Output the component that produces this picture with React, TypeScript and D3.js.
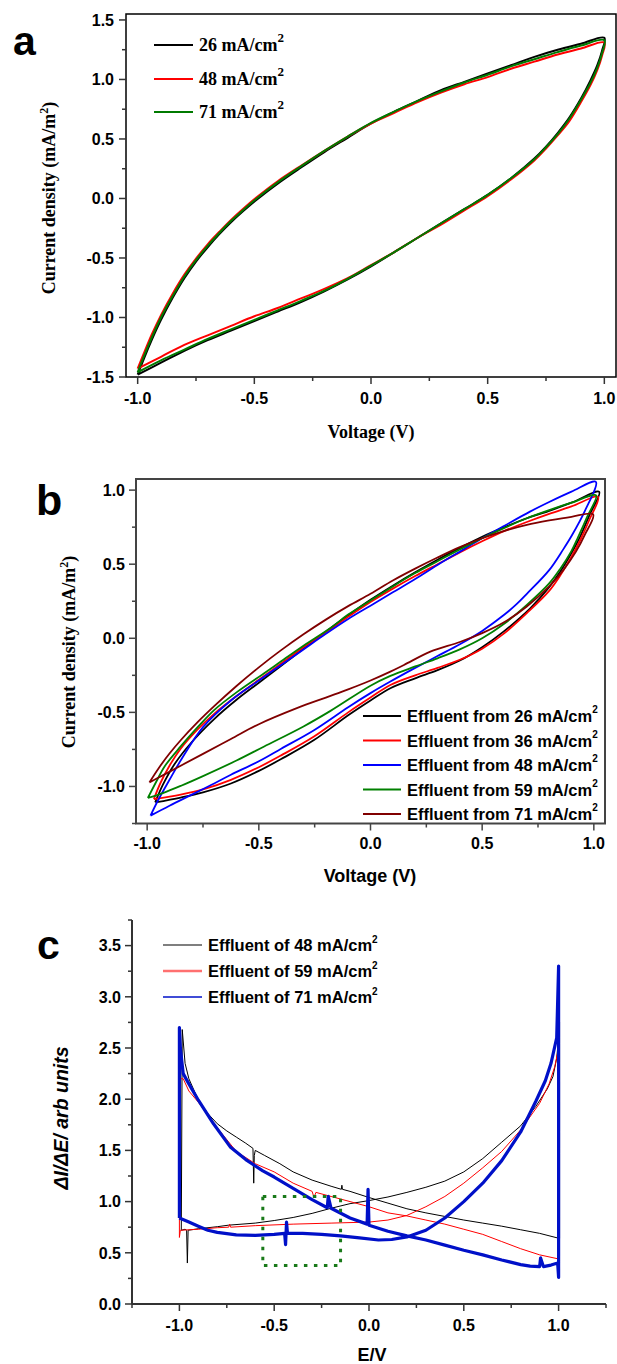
import React from 'react';
import * as d3 from 'd3';

type P = [number, number];

// ---------- Panel a data (Voltage V, current density) ----------
const aSeries = ['26 mA/cm', '48 mA/cm', '71 mA/cm'];
const aColors = ['#000000', '#ff0000', '#007a00'];
const a26Up: P[] = [[-1.0,-1.48],[-0.97,-1.33],[-0.94,-1.19],[-0.9,-1.02],[-0.85,-0.835],[-0.8,-0.67],[-0.75,-0.53],[-0.7,-0.41],[-0.65,-0.30],[-0.6,-0.20],[-0.55,-0.11],[-0.49,-0.01],[-0.4,0.125],[-0.3,0.26],[-0.2,0.39],[-0.1,0.51],[0.0,0.63],[0.1,0.73],[0.2,0.82],[0.3,0.91],[0.4,0.98],[0.5,1.05],[0.6,1.12],[0.7,1.19],[0.8,1.25],[0.9,1.30],[1.0,1.35]];
const a26Down: P[] = [[1.0,1.35],[0.99,1.24],[0.97,1.12],[0.94,0.99],[0.9,0.84],[0.85,0.68],[0.8,0.55],[0.75,0.435],[0.7,0.335],[0.6,0.17],[0.5,0.03],[0.4,-0.09],[0.3,-0.21],[0.2,-0.33],[0.1,-0.45],[0.0,-0.57],[-0.1,-0.68],[-0.2,-0.78],[-0.3,-0.87],[-0.4,-0.95],[-0.5,-1.03],[-0.6,-1.11],[-0.7,-1.19],[-0.8,-1.28],[-0.9,-1.38],[-1.0,-1.48]];
const a48Up: P[] = [[-1.0,-1.43],[-0.97,-1.285],[-0.94,-1.145],[-0.9,-0.98],[-0.85,-0.80],[-0.8,-0.64],[-0.75,-0.505],[-0.7,-0.385],[-0.65,-0.28],[-0.6,-0.18],[-0.55,-0.09],[-0.49,0.01],[-0.4,0.145],[-0.3,0.275],[-0.2,0.40],[-0.1,0.52],[0.0,0.63],[0.1,0.72],[0.2,0.81],[0.3,0.89],[0.4,0.96],[0.5,1.02],[0.6,1.09],[0.7,1.15],[0.8,1.21],[0.9,1.26],[1.0,1.31]];
const a48Down: P[] = [[1.0,1.31],[0.99,1.20],[0.97,1.08],[0.94,0.95],[0.9,0.81],[0.85,0.65],[0.8,0.53],[0.75,0.42],[0.7,0.32],[0.6,0.16],[0.5,0.02],[0.4,-0.10],[0.3,-0.22],[0.2,-0.33],[0.1,-0.45],[0.0,-0.56],[-0.1,-0.67],[-0.2,-0.76],[-0.3,-0.84],[-0.4,-0.92],[-0.5,-0.99],[-0.6,-1.07],[-0.7,-1.15],[-0.8,-1.23],[-0.9,-1.33],[-1.0,-1.43]];
const a71Up: P[] = [[-1.0,-1.46],[-0.97,-1.31],[-0.94,-1.17],[-0.9,-1.0],[-0.85,-0.82],[-0.8,-0.655],[-0.75,-0.518],[-0.7,-0.398],[-0.65,-0.29],[-0.6,-0.19],[-0.55,-0.10],[-0.49,0.0],[-0.4,0.135],[-0.3,0.27],[-0.2,0.40],[-0.1,0.52],[0.0,0.635],[0.1,0.73],[0.2,0.82],[0.3,0.90],[0.4,0.975],[0.5,1.04],[0.6,1.11],[0.7,1.17],[0.8,1.23],[0.9,1.285],[1.0,1.33]];
const a71Down: P[] = [[1.0,1.33],[0.99,1.22],[0.97,1.10],[0.94,0.97],[0.9,0.83],[0.85,0.67],[0.8,0.54],[0.75,0.43],[0.7,0.33],[0.6,0.17],[0.5,0.03],[0.4,-0.09],[0.3,-0.21],[0.2,-0.33],[0.1,-0.45],[0.0,-0.565],[-0.1,-0.675],[-0.2,-0.775],[-0.3,-0.86],[-0.4,-0.94],[-0.5,-1.02],[-0.6,-1.10],[-0.7,-1.18],[-0.8,-1.27],[-0.9,-1.36],[-1.0,-1.46]];
const aYMajor = [-1.5,-1,-0.5,0,0.5,1,1.5];
const aYMinor = [-1.25,-0.75,-0.25,0.25,0.75,1.25];
const aXMajor = [-1,-0.5,0,0.5,1];
const aXMinor = [-0.75,-0.25,0.25,0.75];

// ---------- Panel b data ----------
const bSeries = ['Effluent from 26 mA/cm', 'Effluent from 36 mA/cm', 'Effluent from 48 mA/cm', 'Effluent from 59 mA/cm', 'Effluent from 71 mA/cm'];
const bColors = ['#000000', '#ff0000', '#0000ff', '#008000', '#800000'];
const b26Up: P[] = [[-0.964,-1.108],[-0.93,-0.99],[-0.88,-0.855],[-0.8,-0.70],[-0.7,-0.545],[-0.6,-0.415],[-0.5,-0.30],[-0.4,-0.185],[-0.3,-0.07],[-0.2,0.045],[-0.1,0.155],[0.0,0.26],[0.1,0.355],[0.2,0.445],[0.3,0.53],[0.4,0.61],[0.5,0.685],[0.6,0.75],[0.7,0.81],[0.8,0.86],[0.9,0.915],[1.024,0.988]];
const b26Down: P[] = [[1.024,0.988],[0.98,0.83],[0.94,0.69],[0.9,0.575],[0.85,0.45],[0.8,0.345],[0.714,0.20],[0.6,0.05],[0.5,-0.06],[0.4,-0.15],[0.3,-0.215],[0.2,-0.27],[0.089,-0.337],[0.0,-0.42],[-0.1,-0.52],[-0.253,-0.687],[-0.4,-0.815],[-0.5,-0.895],[-0.625,-0.98],[-0.75,-1.04],[-0.85,-1.075],[-0.964,-1.108]];
const b36Up: P[] = [[-0.97,-1.085],[-0.94,-0.975],[-0.9,-0.86],[-0.85,-0.745],[-0.774,-0.615],[-0.7,-0.51],[-0.6,-0.39],[-0.5,-0.28],[-0.4,-0.17],[-0.3,-0.06],[-0.2,0.04],[-0.1,0.145],[0.0,0.245],[0.1,0.335],[0.2,0.42],[0.3,0.50],[0.4,0.58],[0.5,0.655],[0.6,0.725],[0.7,0.785],[0.8,0.84],[0.9,0.89],[1.019,0.954]];
const b36Down: P[] = [[1.019,0.954],[0.98,0.80],[0.94,0.665],[0.9,0.55],[0.85,0.425],[0.8,0.32],[0.7,0.17],[0.6,0.035],[0.5,-0.07],[0.4,-0.145],[0.3,-0.20],[0.2,-0.25],[0.089,-0.315],[0.0,-0.40],[-0.1,-0.50],[-0.253,-0.663],[-0.4,-0.79],[-0.5,-0.87],[-0.625,-0.955],[-0.75,-1.02],[-0.85,-1.055],[-0.97,-1.085]];
const b48Up: P[] = [[-0.985,-1.197],[-0.95,-1.09],[-0.9,-0.955],[-0.848,-0.82],[-0.75,-0.60],[-0.625,-0.42],[-0.5,-0.285],[-0.4,-0.18],[-0.3,-0.075],[-0.2,0.03],[-0.1,0.13],[0.0,0.22],[0.1,0.31],[0.2,0.40],[0.3,0.495],[0.417,0.60],[0.5,0.675],[0.6,0.76],[0.714,0.855],[0.8,0.92],[0.9,0.99],[1.009,1.056]];
const b48Down: P[] = [[1.009,1.056],[0.96,0.86],[0.9,0.69],[0.863,0.60],[0.8,0.46],[0.7,0.30],[0.654,0.23],[0.6,0.16],[0.5,0.05],[0.4,-0.04],[0.3,-0.12],[0.2,-0.20],[0.089,-0.292],[0.0,-0.37],[-0.1,-0.465],[-0.253,-0.62],[-0.4,-0.745],[-0.5,-0.83],[-0.625,-0.921],[-0.7,-0.98],[-0.8,-1.055],[-0.9,-1.13],[-0.985,-1.197]];
const b59Up: P[] = [[-0.997,-1.078],[-0.96,-0.97],[-0.922,-0.865],[-0.85,-0.73],[-0.774,-0.60],[-0.699,-0.483],[-0.6,-0.365],[-0.476,-0.236],[-0.4,-0.155],[-0.3,-0.05],[-0.179,0.07],[-0.1,0.16],[0.0,0.255],[0.1,0.35],[0.2,0.44],[0.3,0.52],[0.4,0.60],[0.5,0.675],[0.6,0.745],[0.7,0.81],[0.8,0.865],[0.9,0.915],[1.01,0.965]];
const b59Down: P[] = [[1.01,0.965],[0.97,0.82],[0.93,0.685],[0.9,0.59],[0.85,0.47],[0.8,0.37],[0.7,0.225],[0.6,0.10],[0.5,0.0],[0.4,-0.075],[0.3,-0.135],[0.2,-0.19],[0.089,-0.254],[0.0,-0.32],[-0.179,-0.49],[-0.3,-0.595],[-0.476,-0.73],[-0.6,-0.825],[-0.75,-0.93],[-0.848,-0.995],[-0.93,-1.045],[-0.997,-1.078]];
const b71Up: P[] = [[-0.99,-0.973],[-0.95,-0.88],[-0.9,-0.778],[-0.85,-0.688],[-0.774,-0.566],[-0.7,-0.458],[-0.6,-0.322],[-0.5,-0.196],[-0.4,-0.08],[-0.3,0.027],[-0.2,0.126],[-0.1,0.217],[0.0,0.30],[0.1,0.39],[0.2,0.47],[0.3,0.545],[0.4,0.615],[0.5,0.675],[0.6,0.725],[0.7,0.765],[0.8,0.795],[0.9,0.82],[0.997,0.836]];
const b71Down: P[] = [[0.997,0.836],[0.96,0.70],[0.92,0.585],[0.863,0.46],[0.8,0.35],[0.7,0.215],[0.6,0.11],[0.5,0.035],[0.4,-0.025],[0.268,-0.09],[0.15,-0.18],[0.089,-0.225],[0.0,-0.285],[-0.1,-0.345],[-0.2,-0.40],[-0.327,-0.47],[-0.5,-0.58],[-0.625,-0.68],[-0.75,-0.78],[-0.85,-0.86],[-0.93,-0.925],[-0.99,-0.973]];
const bYMajor = [-1,-0.5,0,0.5,1];
const bYMinor = [-1.25,-0.75,-0.25,0.25,0.75];
const bXMajor = [-1,-0.5,0,0.5,1];
const bXMinor = [-0.75,-0.25,0.25,0.75];

// ---------- Panel c data (E/V, dI/dE) ----------
const cSeries = ['Effluent of 48 mA/cm', 'Effluent of 59 mA/cm', 'Effluent of 71 mA/cm'];
const cColors = ['#000000', '#ff0000', '#0010c8'];
const c48Fwd: P[] = [[-0.99,0.72],[-0.97,0.73],[-0.962,0.72],[-0.958,0.40],[-0.954,0.72],[-0.9,0.735],[-0.8,0.755],[-0.74,0.77],[-0.6,0.79],[-0.5,0.815],[-0.4,0.845],[-0.3,0.885],[-0.2,0.935],[-0.1,0.98],[0.0,1.01],[0.1,1.045],[0.2,1.09],[0.3,1.14],[0.4,1.20],[0.5,1.29],[0.6,1.42],[0.7,1.58],[0.8,1.74],[0.88,1.93],[0.94,2.1],[0.97,2.22],[0.99,2.4],[1.0,2.6],[1.005,2.75]];
const c48Rev: P[] = [[1.005,0.64],[0.9,0.69],[0.8,0.725],[0.7,0.76],[0.6,0.79],[0.5,0.82],[0.4,0.855],[0.3,0.89],[0.2,0.93],[0.1,0.985],[0.0,1.04],[-0.1,1.10],[-0.14,1.12],[-0.143,1.16],[-0.146,1.12],[-0.2,1.15],[-0.3,1.21],[-0.4,1.29],[-0.47,1.37],[-0.55,1.45],[-0.6,1.5],[-0.605,1.45],[-0.608,1.18],[-0.612,1.52],[-0.65,1.57],[-0.7,1.63],[-0.75,1.69],[-0.8,1.76],[-0.85,1.86],[-0.9,1.99],[-0.95,2.2],[-0.97,2.35],[-0.985,2.68],[-0.99,0.72]];
const c59Fwd: P[] = [[-1.0,0.65],[-0.995,0.72],[-0.9,0.73],[-0.8,0.745],[-0.74,0.75],[-0.735,0.78],[-0.73,0.75],[-0.6,0.765],[-0.4,0.78],[-0.2,0.79],[0.0,0.80],[0.1,0.82],[0.2,0.865],[0.3,0.95],[0.4,1.05],[0.5,1.18],[0.6,1.33],[0.7,1.49],[0.8,1.70],[0.9,1.96],[0.95,2.15],[0.98,2.32],[1.0,2.5]];
const c59Rev: P[] = [[1.0,0.44],[0.9,0.48],[0.8,0.54],[0.7,0.61],[0.6,0.68],[0.5,0.73],[0.4,0.78],[0.3,0.82],[0.2,0.86],[0.1,0.89],[0.0,0.95],[-0.1,1.0],[-0.2,1.05],[-0.28,1.09],[-0.29,1.04],[-0.3,1.10],[-0.4,1.18],[-0.5,1.29],[-0.6,1.37],[-0.7,1.49],[-0.8,1.72],[-0.9,1.97],[-0.95,2.08],[-0.98,2.2],[-1.0,2.2],[-1.0,0.65]];
const c71Fwd: P[] = [[-1.0,0.84],[-0.95,0.80],[-0.9,0.76],[-0.85,0.72],[-0.8,0.70],[-0.7,0.675],[-0.6,0.67],[-0.5,0.68],[-0.445,0.69],[-0.44,0.58],[-0.435,0.80],[-0.43,0.69],[-0.35,0.69],[-0.25,0.68],[-0.15,0.665],[-0.05,0.645],[0.05,0.625],[0.12,0.63],[0.2,0.655],[0.3,0.72],[0.4,0.84],[0.5,1.0],[0.6,1.18],[0.7,1.40],[0.8,1.68],[0.88,1.98],[0.93,2.18],[0.96,2.35],[0.99,2.6],[1.0,3.3]];
const c71Rev: P[] = [[1.0,0.26],[0.995,0.40],[0.96,0.38],[0.92,0.365],[0.905,0.45],[0.9,0.365],[0.85,0.37],[0.8,0.385],[0.7,0.43],[0.6,0.48],[0.5,0.525],[0.4,0.575],[0.3,0.625],[0.2,0.665],[0.1,0.71],[0.0,0.77],[-0.005,1.12],[-0.01,0.78],[-0.1,0.84],[-0.2,0.935],[-0.215,1.05],[-0.22,0.94],[-0.3,1.02],[-0.4,1.13],[-0.5,1.24],[-0.56,1.30],[-0.65,1.41],[-0.73,1.53],[-0.82,1.76],[-0.9,1.99],[-0.95,2.15],[-0.98,2.25],[-0.995,2.5],[-1.0,2.7],[-1.0,0.84]];
const cYMajor = [0,0.5,1,1.5,2,2.5,3,3.5];
const cYMinor = [0.25,0.75,1.25,1.75,2.25,2.75,3.25,3.75];
const cXMajor = [-1,-0.5,0,0.5,1];
const cXMinor = [-1.25,-0.75,-0.25,0.25,0.75,1.25];
const cBoxE = [-0.56, -0.15];
const cBoxV = [0.375, 1.05];

const SERIF = '"Liberation Serif", "Times New Roman", serif';
const SANS = '"Liberation Sans", Arial, sans-serif';
const fmt = (v: number) => v.toFixed(1);

function LeftAxis({ s, x, majors, minors, labelX, font, size, color }: any) {
  return (
    <g>
      {majors.map((v: number) => (
        <g key={'M' + v}>
          <line x1={x - 7} x2={x} y1={s(v)} y2={s(v)} stroke={color} strokeWidth={1.5} />
          <text x={labelX} y={s(v)} dy="0.36em" textAnchor="end" fontFamily={font} fontWeight="bold" fontSize={size} fill="#000">{fmt(v)}</text>
        </g>
      ))}
      {minors.map((v: number) => (
        <line key={'m' + v} x1={x - 4} x2={x} y1={s(v)} y2={s(v)} stroke={color} strokeWidth={1.5} />
      ))}
    </g>
  );
}

function BottomAxis({ s, y, majors, minors, labelY, font, size, color }: any) {
  return (
    <g>
      {majors.map((v: number) => (
        <g key={'M' + v}>
          <line x1={s(v)} x2={s(v)} y1={y} y2={y + 7} stroke={color} strokeWidth={1.5} />
          <text x={s(v)} y={labelY} textAnchor="middle" fontFamily={font} fontWeight="bold" fontSize={size} fill="#000">{fmt(v)}</text>
        </g>
      ))}
      {minors.map((v: number) => (
        <line key={'m' + v} x1={s(v)} x2={s(v)} y1={y} y2={y + 4} stroke={color} strokeWidth={1.5} />
      ))}
    </g>
  );
}

export default function App() {
  const ax = d3.scaleLinear().domain([-1.05, 1.05]).range([126, 616]);
  const ay = d3.scaleLinear().domain([-1.5, 1.55]).range([377, 14]);
  const aLine = d3.line<P>().x(d => ax(d[0])).y(d => ay(d[1])).curve(d3.curveCatmullRom.alpha(0.5));
  const aLoops = [[a26Up, a26Down], [a48Up, a48Down], [a71Up, a71Down]];

  const bx = d3.scaleLinear().domain([-1.05, 1.05]).range([136, 605]);
  const by = d3.scaleLinear().domain([-1.25, 1.075]).range([823.5, 479]);
  const bLine = d3.line<P>().x(d => bx(d[0])).y(d => by(d[1])).curve(d3.curveCatmullRom.alpha(0.5));
  const bLoops = [[b26Up, b26Down], [b36Up, b36Down], [b48Up, b48Down], [b59Up, b59Down], [b71Up, b71Down]];

  const cx = d3.scaleLinear().domain([-1.25, 1.25]).range([132, 606]);
  const cy = d3.scaleLinear().domain([0, 3.75]).range([1304, 920]);
  const cLine = d3.line<P>().x(d => cx(d[0])).y(d => cy(d[1]));
  const cLoops = [[c48Fwd, c48Rev], [c59Fwd, c59Rev], [c71Fwd, c71Rev]];
  const cWidths = [1, 1, 3.2];

  const aLegendY = [45, 79, 112];
  const bLegendY = [716, 740.5, 765, 789.5, 814];
  const cLegendY = [945, 971, 997];
  const cLegendColors = ['#000000', '#ff7070', '#0010c8'];
  const cLegendWidths = [1.2, 2.5, 1.5];

  return (
    <svg width={617} height={1364} style={{ position: 'absolute', left: 0, top: 0, background: '#fff' }}>
      <rect x={0} y={0} width={617} height={1364} fill="#fff" />
      {/* ================= Panel a ================= */}
      <text x={13} y={55} fontFamily={SANS} fontWeight="bold" fontSize={41}>a</text>
      {aLoops.map((loop, i) => (
        <path key={'a' + i} d={aLine([...loop[0], ...loop[1].slice(1)]) || ''} fill="none" stroke={aColors[i]} strokeWidth={2} />
      ))}
      <rect x={126} y={14} width={490} height={363} fill="none" stroke="#000" strokeWidth={1.5} />
      <LeftAxis s={ay} x={126} majors={aYMajor} minors={aYMinor} labelX={114} font={SANS} size={16} color="#333" />
      <BottomAxis s={ax} y={377} majors={aXMajor} minors={aXMinor} labelY={404} font={SANS} size={16} color="#333" />
      <text transform="translate(55,198) rotate(-90)" textAnchor="middle" fontFamily={SERIF} fontWeight="bold" fontSize={18}>
        Current density (mA/m<tspan dy={-7} fontSize={12}>2</tspan><tspan dy={7}>)</tspan>
      </text>
      <text x={371} y={438} textAnchor="middle" fontFamily={SERIF} fontWeight="bold" fontSize={18}>Voltage (V)</text>
      {aSeries.map((s, i) => (
        <g key={'al' + i}>
          <line x1={154} x2={193} y1={aLegendY[i]} y2={aLegendY[i]} stroke={aColors[i]} strokeWidth={2} />
          <text x={199} y={aLegendY[i] + 6} fontFamily={SERIF} fontWeight="bold" fontSize={18}>
            {s}<tspan dy={-9} fontSize={13}>2</tspan>
          </text>
        </g>
      ))}

      {/* ================= Panel b ================= */}
      <text x={36} y={515} fontFamily={SANS} fontWeight="bold" fontSize={43}>b</text>
      {bLoops.map((loop, i) => (
        <path key={'b' + i} d={bLine([...loop[0], ...loop[1].slice(1)]) || ''} fill="none" stroke={bColors[i]} strokeWidth={1.8} />
      ))}
      <rect x={136} y={479} width={469} height={344.5} fill="none" stroke="#444" strokeWidth={2} />
      <LeftAxis s={by} x={136} majors={bYMajor} minors={bYMinor} labelX={125} font={SANS} size={16} color="#444" />
      <BottomAxis s={bx} y={823.5} majors={bXMajor} minors={bXMinor} labelY={849} font={SANS} size={16} color="#444" />
      <text transform="translate(75,652) rotate(-90)" textAnchor="middle" fontFamily={SERIF} fontWeight="bold" fontSize={18}>
        Current density (mA/m<tspan dy={-7} fontSize={12}>2</tspan><tspan dy={7}>)</tspan>
      </text>
      <text x={370} y={882} textAnchor="middle" fontFamily={SANS} fontWeight="bold" fontSize={18}>Voltage (V)</text>
      {bSeries.map((s, i) => (
        <g key={'bl' + i}>
          <line x1={363} x2={401} y1={bLegendY[i]} y2={bLegendY[i]} stroke={bColors[i]} strokeWidth={2} />
          <text x={407} y={bLegendY[i] + 6} fontFamily={SANS} fontWeight="bold" fontSize={16.5}>
            {s}<tspan dy={-9} fontSize={10}>2</tspan>
          </text>
        </g>
      ))}

      {/* ================= Panel c ================= */}
      <text x={37} y={959} fontFamily={SANS} fontWeight="bold" fontSize={41}>c</text>
      {cLoops.map((loop, i) => (
        <path key={'c' + i} d={cLine([...loop[0], ...loop[1]]) || ''} fill="none" stroke={cColors[i]} strokeWidth={cWidths[i]} strokeLinejoin="round" />
      ))}
      <rect x={cx(cBoxE[0])} y={cy(cBoxV[1])} width={cx(cBoxE[1]) - cx(cBoxE[0])} height={cy(cBoxV[0]) - cy(cBoxV[1])}
        fill="none" stroke="#1a7a1a" strokeWidth={3} strokeDasharray="3.5,6.5" />
      <line x1={132} x2={132} y1={920} y2={1304} stroke="#333" strokeWidth={2} />
      <line x1={132} x2={606} y1={1304} y2={1304} stroke="#333" strokeWidth={2} />
      <LeftAxis s={cy} x={132} majors={cYMajor} minors={cYMinor} labelX={121} font={SANS} size={16} color="#333" />
      <BottomAxis s={cx} y={1304} majors={cXMajor} minors={cXMinor} labelY={1331} font={SANS} size={16} color="#333" />
      <text transform="translate(68,1118) rotate(-90)" textAnchor="middle" fontFamily={SANS} fontStyle="italic" fontWeight="bold" fontSize={19.5}>
        ΔI/ΔE/ arb units
      </text>
      <text x={372} y={1361} textAnchor="middle" fontFamily={SANS} fontWeight="bold" fontSize={18}>E/V</text>
      {cSeries.map((s, i) => (
        <g key={'cl' + i}>
          <line x1={163} x2={202} y1={cLegendY[i]} y2={cLegendY[i]} stroke={cLegendColors[i]} strokeWidth={cLegendWidths[i]} />
          <text x={208} y={cLegendY[i] + 6} fontFamily={SANS} fontWeight="bold" fontSize={16.5}>
            {s}<tspan dy={-8} fontSize={10}>2</tspan>
          </text>
        </g>
      ))}
    </svg>
  );
}
